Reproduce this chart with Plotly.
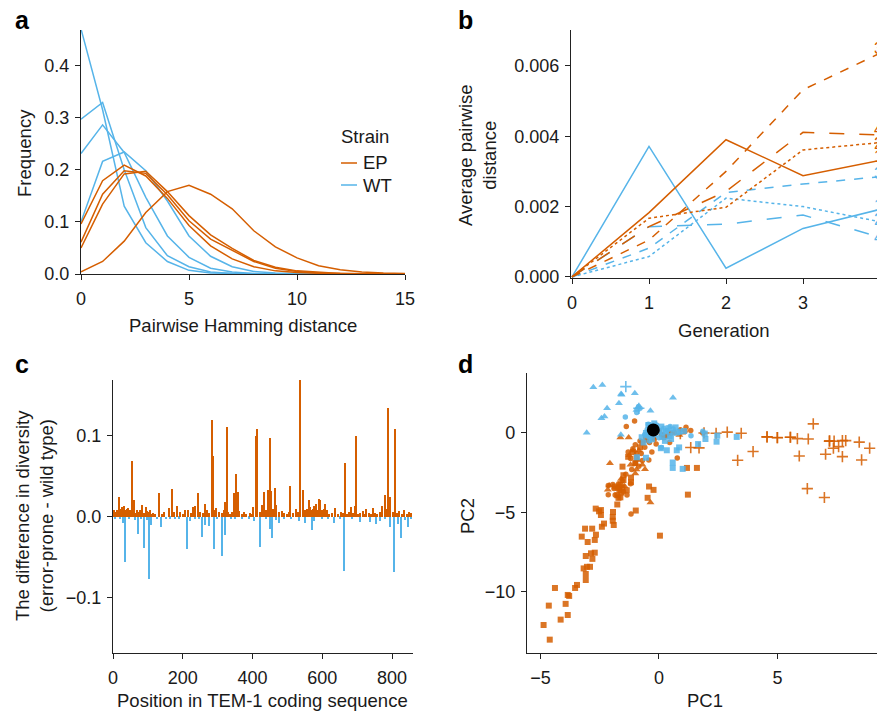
import plotly.graph_objects as go

W, H = 877, 712
ORANGE = "#D55E00"
BLUE = "#56B4E9"
FONT = "Liberation Sans, Arial, Helvetica, sans-serif"
TXT = "#1a1a1a"

# ---------------- Panel a: pairwise Hamming distance distributions ----------------
hamming = list(range(16))
ep_freq = [
    [0.096, 0.179, 0.209, 0.188, 0.145, 0.093, 0.054, 0.029, 0.014, 0.006, 0.003, 0.001, 0.0, 0.0, 0.0, 0.0],
    [0.061, 0.153, 0.198, 0.193, 0.152, 0.102, 0.067, 0.045, 0.024, 0.011, 0.005, 0.002, 0.001, 0.0, 0.0, 0.0],
    [0.050, 0.134, 0.192, 0.197, 0.158, 0.112, 0.075, 0.049, 0.026, 0.013, 0.006, 0.003, 0.001, 0.0, 0.0, 0.0],
    [0.004, 0.024, 0.063, 0.118, 0.158, 0.170, 0.153, 0.125, 0.083, 0.052, 0.031, 0.016, 0.008, 0.004, 0.002, 0.001],
]
wt_freq = [
    [0.470, 0.315, 0.130, 0.060, 0.024, 0.007, 0.002, 0.001, 0.0, 0.0, 0.0, 0.0, 0.0, 0.0, 0.0, 0.0],
    [0.297, 0.329, 0.200, 0.089, 0.035, 0.014, 0.004, 0.001, 0.0, 0.0, 0.0, 0.0, 0.0, 0.0, 0.0, 0.0],
    [0.231, 0.286, 0.233, 0.147, 0.073, 0.032, 0.011, 0.004, 0.001, 0.0, 0.0, 0.0, 0.0, 0.0, 0.0, 0.0],
    [0.100, 0.216, 0.234, 0.198, 0.140, 0.073, 0.034, 0.014, 0.005, 0.002, 0.001, 0.0, 0.0, 0.0, 0.0, 0.0],
]

# ---------------- Panel b: average pairwise distance per generation ----------------
generation = [0, 1, 2, 3, 4]
replicates = ["1", "2", "3", "4"]
ep_dist = [
    [0.0, 0.00183, 0.00390, 0.00288, 0.00331],
    [0.0, 0.00167, 0.00198, 0.00361, 0.00382],
    [0.0, 0.00105, 0.00300, 0.00532, 0.00636],
    [0.0, 0.00143, 0.00243, 0.00411, 0.00404],
]
wt_dist = [
    [0.0, 0.00371, 0.00025, 0.00138, 0.00192],
    [0.0, 0.00058, 0.00224, 0.00200, 0.00157],
    [0.0, 0.00082, 0.00240, 0.00264, 0.00285],
    [0.0, 0.00143, 0.00150, 0.00176, 0.00113],
]
ep_label_y = [0.00342, 0.00380, 0.00650, 0.00420]
wt_label_y = [0.00203, 0.00162, 0.00295, 0.00113]
dash_styles = ["solid", "dot", "dash", "longdash"]

# ---------------- Panel c: diversity difference per position ----------------
pos_up = [3, 7, 11, 14, 18, 21, 25, 28, 32, 36, 40, 44, 48, 51, 54, 58, 62, 66, 70, 74, 78, 84, 88, 94, 97,
          100, 106, 110, 115, 122, 132, 140, 147, 160, 170, 176, 183, 193, 200, 207, 215, 224, 231, 236,
          243, 250, 258, 264, 269, 276, 283, 287, 292, 297, 304, 312, 318, 322, 326, 330, 336, 342, 348,
          352, 358, 363, 370, 375, 382, 392, 398, 403, 410, 414, 421, 428, 433, 440, 444, 450, 453, 458,
          464, 469, 476, 484, 490, 498, 504, 509, 516, 526, 532, 538, 544, 551, 556, 561, 565, 569, 573,
          577, 582, 586, 590, 595, 600, 605, 609, 613, 620, 628, 637, 645, 653, 660, 667, 672, 678, 684,
          689, 693, 697, 703, 710, 717, 722, 727, 735, 741, 746, 752, 758, 765, 773, 780, 784, 788, 792,
          796, 802, 808, 814, 820, 828, 836, 842, 850, 856]
div_up = [0.008, 0.006, 0.009, 0.005, 0.024, 0.010, 0.012, 0.007, 0.013, 0.009, 0.010, 0.011, 0.008, 0.006,
          0.069, 0.010, 0.021, 0.005, 0.008, 0.006, 0.009, 0.015, 0.005, 0.012, 0.007,
          0.006, 0.009, 0.004, 0.005, 0.004, 0.030, 0.004, 0.006, 0.011, 0.035, 0.006, 0.013, 0.006, 0.004,
          0.008, 0.008, 0.005, 0.012, 0.014,
          0.030, 0.006, 0.005, 0.016, 0.008, 0.005, 0.120, 0.075, 0.009, 0.011, 0.006, 0.005, 0.008, 0.018,
          0.111, 0.006, 0.004, 0.006, 0.029,
          0.053, 0.031, 0.007, 0.004, 0.006, 0.004, 0.005, 0.004, 0.012, 0.100, 0.109, 0.006, 0.015, 0.031,
          0.008, 0.033, 0.097, 0.032, 0.010,
          0.036, 0.015, 0.006, 0.007, 0.005, 0.004, 0.006, 0.038, 0.005, 0.010, 0.006, 0.169, 0.033, 0.008,
          0.010, 0.021, 0.012, 0.009, 0.010,
          0.013, 0.016, 0.008, 0.022, 0.021, 0.008, 0.010, 0.016, 0.008, 0.004, 0.005, 0.011, 0.004, 0.006,
          0.005, 0.066, 0.004, 0.006, 0.012,
          0.005, 0.014, 0.100, 0.004, 0.005, 0.007, 0.004, 0.010, 0.005, 0.004, 0.011, 0.005, 0.004, 0.006,
          0.014, 0.027, 0.010, 0.135, 0.008,
          0.024, 0.006, 0.109, 0.005, 0.007, 0.004, 0.008, 0.004, 0.006, 0.005]
pos_down = [6, 20, 30, 34, 45, 64, 72, 80, 88, 97, 104, 110, 126, 137, 152, 165, 178, 190, 213, 220, 236,
            248, 257, 265, 277, 289, 300, 313, 321, 338, 350, 370, 390, 406, 423, 440, 450, 455, 469, 476,
            490, 510, 535, 552, 572, 578, 600, 618, 635, 650, 664, 685, 710, 737, 754, 765, 780, 794, 805,
            817, 827, 838, 846, 855]
div_down = [-0.002, -0.003, -0.008, -0.056, -0.003, -0.004, -0.021, -0.003, -0.038, -0.004, -0.077, -0.010,
            -0.003, -0.012, -0.003, -0.002, -0.003, -0.002, -0.040, -0.005, -0.003,
            -0.002, -0.025, -0.010, -0.011, -0.039, -0.003, -0.048, -0.022, -0.003, -0.002, -0.002, -0.002,
            -0.005, -0.037, -0.003, -0.015, -0.026, -0.004, -0.007,
            -0.002, -0.003, -0.005, -0.007, -0.016, -0.005, -0.003, -0.002, -0.007, -0.002, -0.067, -0.003,
            -0.006, -0.006, -0.009, -0.005, -0.003, -0.013, -0.068,
            -0.009, -0.026, -0.004, -0.012, -0.003]

# ---------------- Panel d: PCA ----------------
ep_square_pc1 = [-4.87, -4.61, -4.65, -4.39, -4.15, -3.85, -3.94, -3.85, -3.79, -3.54, -3.46, -3.09, -3.09,
                 -3.18, -3.04, -2.91, -2.81, -2.87, -2.71, -3.09, -3.26, -3.01, -2.71, -2.66, -3.12, -2.82,
                 -2.41, -2.32, -1.91, -1.95, -1.95, -1.94, -2.67, -2.45, -2.53, -2.45, -0.98, -1.76, -1.71,
                 -1.76, -1.36, -1.54, -1.62, -1.50, -1.50, -1.18, -1.18, -0.48, -0.42, -0.23, 0.04, -1.54,
                 -1.86, -1.72, -1.00, -0.80, 1.18, 1.60, 1.22, -1.67, -1.60, -1.63, -1.10, -0.95, -1.30,
                 -0.70, -0.55]
ep_square_pc2 = [-12.08, -13.00, -10.86, -9.75, -11.74, -11.45, -10.75, -10.19, -10.25, -9.75, -9.56, -9.25,
                 -8.87, -8.52, -8.42, -8.42, -7.92, -7.57, -7.53, -7.74, -6.52, -6.86, -6.73, -6.40, -6.02,
                 -6.02, -5.90, -5.70, -5.79, -5.52, -5.28, -4.97, -4.76, -4.85, -4.93, -5.16, -4.88, -4.50,
                 -4.08, -3.92, -3.61, -3.42, -3.27, -2.96, -2.66, -2.81, -3.10, -4.08, -3.37, -3.58, -6.46,
                 -2.12, -3.37, -3.46, -1.90, -0.90, -2.20, -2.20, -3.88, -3.60, -3.75, -4.05, -1.20, -1.60,
                 -1.50, -0.60, -0.35]
ep_circle_pc1 = [-1.38, -1.03, 1.14, 1.34, 0.77, -1.18, -0.43, -0.70, -2.14, -2.14, -0.12, -1.30, -1.10,
                 -0.95, -1.20, -1.00, -0.85, -1.15, -1.40, -1.55, -1.70, -1.90, -1.65, -1.85, -1.50, -0.80,
                 -0.60, -0.40, -0.20, 0.10, 0.30, 0.50, 0.65, 0.00, -0.20, 0.45, -0.30, -0.75, -1.00, 1.10,
                 0.20, -1.95, -1.20, -1.35, 0.90, 1.85, -0.25]
ep_circle_pc2 = [0.40, 0.75, 0.36, 0.15, -1.57, -5.10, -1.70, -1.74, -3.30, -3.88, -0.70, -1.20, -1.00,
                 -1.30, -1.60, -1.90, -2.10, -2.30, -2.60, -3.00, -3.20, -3.50, -3.40, -3.90, -3.70, -0.50,
                 -0.90, -0.60, -0.40, -0.10, -0.20, 0.00, 0.05, 0.15, 0.00, -0.60, -1.20, -1.30, -0.75, 0.10,
                 -0.30, -3.25, -3.20, -3.90, 0.20, 0.00, -0.30]
ep_triangle_pc1 = [-2.07, -1.63, -1.28, -0.59, -0.36, -2.16, 0.86, -2.10, -1.10, -1.25, -0.90, -0.70, -1.00,
                   -1.60, -1.45, -0.85, -0.50, -0.30, 0.20, 0.45, -1.75, -0.95, -1.20]
ep_triangle_pc2 = [-1.91, -0.29, -0.29, -2.28, -4.38, -3.58, -0.13, -3.30, -1.10, -1.40, -1.70, -2.00, -2.55,
                   -2.90, -3.35, -1.10, -0.50, -0.25, -0.15, -0.05, -3.45, -2.30, -2.00]
ep_cross_pc1 = [2.41, 2.88, 3.47, 4.56, 4.99, 5.54, 5.84, 6.30, 6.51, 7.19, 7.39, 7.58, 7.36, 7.74, 7.88,
                8.45, 8.89, 7.03, 7.74, 8.55, 5.92, 3.97, 3.32, 6.26, 6.98, 1.34, 1.69, 4.56, 5.00, 7.20,
                5.55, 1.90, 0.90]
ep_cross_pc2 = [-0.02, 0.05, -0.02, -0.25, -0.29, -0.27, -0.36, -0.38, 0.57, -0.52, -0.52, -0.86, -0.96,
                -0.48, -0.48, -0.58, -0.96, -1.34, -1.49, -1.70, -1.45, -1.17, -1.72, -3.50, -4.06, -0.92,
                -0.94, -0.25, -0.30, -0.50, -0.27, 0.00, -0.05]
wt_triangle_pc1 = [-2.77, -2.39, -1.60, -1.02, -1.69, -2.19, -2.30, -2.43, 0.59, -0.36, -3.05, -1.61, -1.58,
                   -0.95, -0.90]
wt_triangle_pc2 = [2.87, 3.02, 2.45, 2.49, 1.87, 1.55, 1.03, 0.92, 2.22, 1.40, 0.02, -0.11, 2.40, 1.45, 1.60]
wt_cross_pc1 = [-1.40, -0.85]
wt_cross_pc2 = [2.91, 1.55]
wt_circle_pc1 = [-1.42, -0.86, -0.80, -0.94, 1.35, 1.85, 0.10, 0.47, -0.45, -0.30, -0.10, 0.20, 0.35, -0.50,
                 -0.60, 0.00, 0.60, 0.80, -0.40, 0.15]
wt_circle_pc2 = [1.00, 1.66, 1.55, 1.28, -0.17, 0.10, -0.92, 0.40, 0.55, 0.45, 0.50, 0.30, 0.15, 0.20, -0.10,
                 -0.30, 0.25, 0.00, -0.50, 0.00]
wt_square_pc1 = [-0.93, -0.73, 0.86, 1.06, 0.33, 0.75, 0.85, 0.58, 0.58, 1.00, 1.65, 1.96, 1.93, 2.46, 2.43,
                 3.28, 0.51, 0.08, -0.55, -0.45, -0.20, 0.10, 0.30, 0.45, 0.60, -0.50, -0.30, 0.00, 0.25,
                 -0.65, 0.70, -0.55, 0.15, -0.40, 0.40, -0.20]
wt_square_pc2 = [-1.53, -0.27, 0.08, 0.12, -1.09, -1.09, -0.91, -1.86, -2.20, -2.26, -0.70, -0.38, -0.04,
                 -0.17, -0.55, -0.25, -0.38, -0.96, -1.56, 0.50, 0.60, 0.40, 0.10, -0.20, 0.00, -0.15, -0.40,
                 0.10, -0.50, -0.60, 0.35, 0.00, -0.25, -0.20, 0.30, -0.10]
ancestor_pc1 = [-0.24]
ancestor_pc2 = [0.19]


def dx(l, r):
    return [l / W, r / W]


def dy(t, b):
    return [1 - b / H, 1 - t / H]


fig = go.Figure()

# Panel a
for f in wt_freq:
    fig.add_trace(go.Scatter(x=hamming, y=f, mode="lines", line=dict(color=BLUE, width=1.5),
                             xaxis="x", yaxis="y", showlegend=False))
for f in ep_freq:
    fig.add_trace(go.Scatter(x=hamming, y=f, mode="lines", line=dict(color=ORANGE, width=1.5),
                             xaxis="x", yaxis="y", showlegend=False))

# Panel b
for i, s in enumerate(wt_dist):
    fig.add_trace(go.Scatter(x=generation, y=s, mode="lines",
                             line=dict(color=BLUE, width=1.5, dash=dash_styles[i]),
                             xaxis="x2", yaxis="y2", showlegend=False))
for i, s in enumerate(ep_dist):
    fig.add_trace(go.Scatter(x=generation, y=s, mode="lines",
                             line=dict(color=ORANGE, width=1.5, dash=dash_styles[i]),
                             xaxis="x2", yaxis="y2", showlegend=False))

# Panel c
fig.add_trace(go.Bar(x=pos_down, y=div_down, width=4, marker=dict(color=BLUE, line=dict(width=0)),
                     xaxis="x3", yaxis="y3", showlegend=False))
fig.add_trace(go.Bar(x=pos_up, y=div_up, width=4, marker=dict(color=ORANGE, line=dict(width=0)),
                     xaxis="x3", yaxis="y3", showlegend=False))

# Panel d
def pts(x, y, color, symbol, size, lw=0):
    line = dict(width=lw, color=color) if lw else dict(width=0)
    fig.add_trace(go.Scatter(x=x, y=y, mode="markers",
                             marker=dict(color=color, symbol=symbol, size=size, opacity=0.85, line=line),
                             xaxis="x4", yaxis="y4", showlegend=False))

pts(ep_square_pc1, ep_square_pc2, ORANGE, "square", 6)
pts(ep_circle_pc1, ep_circle_pc2, ORANGE, "circle", 5.5)
pts(ep_triangle_pc1, ep_triangle_pc2, ORANGE, "triangle-up", 7)
pts(ep_cross_pc1, ep_cross_pc2, ORANGE, "cross-thin", 8, lw=1.6)
pts(wt_triangle_pc1, wt_triangle_pc2, BLUE, "triangle-up", 7)
pts(wt_cross_pc1, wt_cross_pc2, BLUE, "cross-thin", 8, lw=1.6)
pts(wt_circle_pc1, wt_circle_pc2, BLUE, "circle", 5.5)
pts(wt_square_pc1, wt_square_pc2, BLUE, "square", 6)
fig.add_trace(go.Scatter(x=ancestor_pc1, y=ancestor_pc2, mode="markers",
                         marker=dict(color="black", size=13), xaxis="x4", yaxis="y4", showlegend=False))


def axis(domain, rng, anchor, tickvals, fmt=None, xaxis=True):
    d = dict(domain=domain, range=rng, anchor=anchor, showline=True, linecolor="#222", linewidth=1.2,
             ticks="outside", ticklen=5, tickwidth=1.2, tickcolor="#222", showgrid=False, zeroline=False,
             automargin=False, tickvals=tickvals, tickfont=dict(family=FONT, size=18, color=TXT))
    if fmt:
        d["tickformat"] = fmt
    d["ticklabelstandoff"] = 3 if xaxis else 2
    return d


annotations = []

def ann(text, px, py, size=18.5, angle=0, xanchor="center", bold=False, color=TXT):
    annotations.append(dict(text=f"<b>{text}</b>" if bold else text, x=px / W, y=1 - py / H,
                            xref="paper", yref="paper", showarrow=False, textangle=angle,
                            xanchor=xanchor, yanchor="middle",
                            font=dict(family=FONT, size=size, color=color)))

# panel letters
ann("a", 13, 20, size=25, xanchor="left", bold=True, color="black")
ann("b", 456, 20, size=25, xanchor="left", bold=True, color="black")
ann("c", 13, 364, size=25, xanchor="left", bold=True, color="black")
ann("d", 456, 364, size=25, xanchor="left", bold=True, color="black")

# axis titles
ann("Pairwise Hamming distance", 243, 325)
ann("Frequency", 24, 153, angle=-90)
ann("Generation", 724, 330)
ann("Average pairwise<br>distance", 477, 155, angle=-90)
ann("Position in TEM-1 coding sequence", 262, 700)
ann("The difference in diversity<br>(error-prone - wild type)", 34, 516, angle=-90)
ann("PC1", 705, 700)
ann("PC2", 467, 516, angle=-90)

# legend of panel a
ann("Strain", 339, 137, xanchor="left")
ann("EP", 361, 163, xanchor="left")
ann("WT", 361, 185, xanchor="left")

shapes = [
    dict(type="line", xref="paper", yref="paper", x0=341 / W, x1=357 / W, y0=1 - 163 / H, y1=1 - 163 / H,
         line=dict(color=ORANGE, width=1.5)),
    dict(type="line", xref="paper", yref="paper", x0=341 / W, x1=357 / W, y0=1 - 185 / H, y1=1 - 185 / H,
         line=dict(color=BLUE, width=1.5)),
]

# end labels of panel b (at generation 4, partly cut off by the figure edge as in the original)
for lab, yv in zip(replicates, ep_label_y):
    annotations.append(dict(text=lab, x=878 / W, y=yv, xref="paper", yref="y2", showarrow=False,
                            xanchor="center", yanchor="middle", font=dict(family=FONT, size=16, color=ORANGE)))
for lab, yv in zip(replicates, wt_label_y):
    annotations.append(dict(text=lab, x=878 / W, y=yv, xref="paper", yref="y2", showarrow=False,
                            xanchor="center", yanchor="middle", font=dict(family=FONT, size=16, color=BLUE)))

fig.update_layout(
    width=W, height=H, margin=dict(l=0, r=0, t=0, b=0, autoexpand=False),
    paper_bgcolor="white", plot_bgcolor="white", barmode="overlay", bargap=0,
    showlegend=False, font=dict(family=FONT, size=18, color=TXT),
    xaxis=axis(dx(81, 405), [0, 15], "y", [0, 5, 10, 15]),
    yaxis=axis(dy(30, 274), [0, 0.468], "x", [0, 0.1, 0.2, 0.3, 0.4], fmt=".1f", xaxis=False),
    xaxis2=axis(dx(571, 877), [-0.013, 3.961], "y2", [0, 1, 2, 3, 4]),
    yaxis2=axis(dy(30, 278), [-0.00003, 0.00702], "x2", [0, 0.002, 0.004, 0.006], fmt=".3f", xaxis=False),
    xaxis3=axis(dx(113, 413), [0, 860], "y3", [0, 200, 400, 600, 800]),
    yaxis3=axis(dy(380, 653), [-0.168, 0.169], "x3", [-0.1, 0.0, 0.1], fmt=".1f", xaxis=False),
    xaxis4=axis(dx(527, 877), [-5.57, 9.2], "y4", [-5, 0, 5]),
    yaxis4=axis(dy(373, 653), [-13.84, 3.77], "x4", [-10, -5, 0], xaxis=False),
    annotations=annotations, shapes=shapes,
)

fig.write_html("out.html", config={"displayModeBar": False},
               post_script="document.body.style.margin='0px';document.body.style.overflow='hidden';")
